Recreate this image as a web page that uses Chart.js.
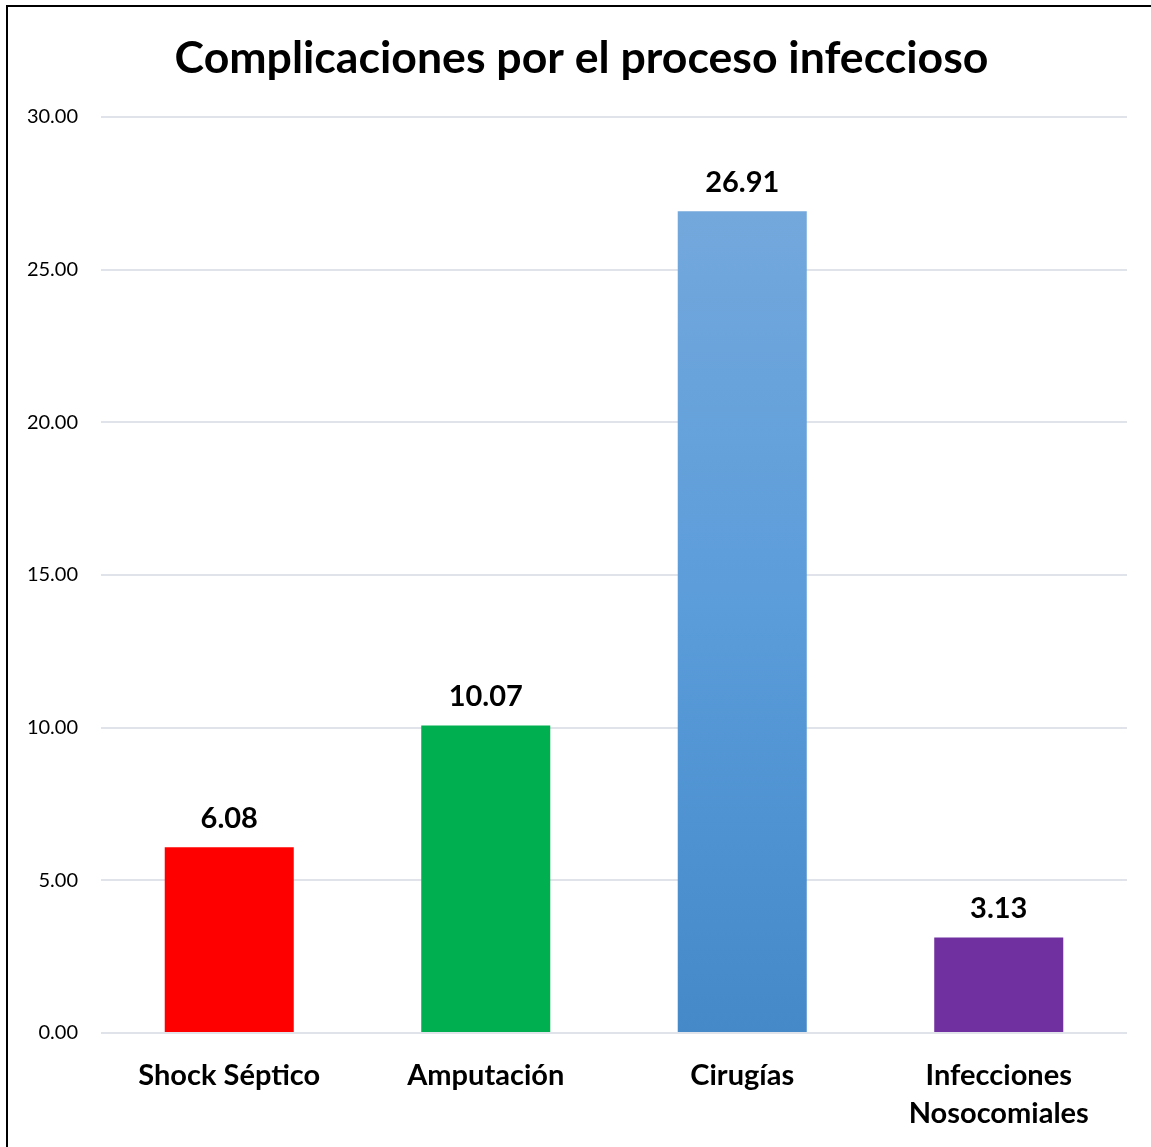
<!DOCTYPE html>
<html><head><meta charset="utf-8">
<script src="https://cdn.jsdelivr.net/npm/chart.js@4"></script>
<style>
html,body{margin:0;padding:0;background:#fff;overflow:hidden;}
#frame{position:absolute;left:6px;top:5px;width:1160px;height:1160px;border:2px solid #000;box-sizing:border-box;}
#wrap{position:absolute;left:0;top:0;width:1151px;height:1147px;}
</style></head>
<body>
<div id="frame"></div>
<div id="wrap"><canvas id="c"></canvas></div>
<script>
const titleText = 'Complicaciones por el proceso infeccioso';
const categories = ['Shock Séptico', 'Amputación', 'Cirugías', ['Infecciones', 'Nosocomiales']];
const values = [6.08, 10.07, 26.91, 3.13];
const barColors = ['#FF0000', '#00B050', 'gradient', '#7030A0'];
const yMin = 0, yMax = 30, yStep = 5;

const FONT = 'Lato, "Open Sans", sans-serif';

function blueGradient(ctx) {
  const chart = ctx.chart;
  const area = chart.chartArea;
  if (!area) return '#5B9BD5';
  const y = chart.scales.y;
  const g = chart.ctx.createLinearGradient(0, y.getPixelForValue(values[2]), 0, y.getPixelForValue(0));
  g.addColorStop(0, '#73A8DC');
  g.addColorStop(0.5, '#5A9CDA');
  g.addColorStop(1, '#4589C9');
  return g;
}

const dataLabels = {
  id: 'dataLabels',
  afterDatasetsDraw(chart) {
    const ctx = chart.ctx;
    const meta = chart.getDatasetMeta(0);
    ctx.save();
    ctx.font = 'bold 29px ' + FONT;
    ctx.fillStyle = '#000';
    ctx.textAlign = 'center';
    ctx.textBaseline = 'bottom';
    meta.data.forEach((bar, i) => {
      ctx.fillText(values[i].toFixed(2), bar.x, bar.y - 14);
    });
    ctx.restore();
  }
};

const chartTitle = {
  id: 'chartTitle',
  afterDraw(chart) {
    const ctx = chart.ctx;
    ctx.save();
    ctx.font = 'bold 44.6px ' + FONT;
    ctx.fillStyle = '#000';
    ctx.textAlign = 'center';
    ctx.textBaseline = 'middle';
    ctx.fillText(titleText, 581.5, 59);
    ctx.restore();
  }
};

new Chart(document.getElementById('c'), {
  type: 'bar',
  data: {
    labels: categories,
    datasets: [{
      data: values,
      backgroundColor: (ctx) => barColors[ctx.dataIndex] === 'gradient' ? blueGradient(ctx) : barColors[ctx.dataIndex],
      borderWidth: 0,
      categoryPercentage: 1.0,
      barPercentage: 0.503
    }]
  },
  options: {
    responsive: true,
    maintainAspectRatio: false,
    animation: false,
    layout: { padding: { left: 0, right: 24, top: 117, bottom: 0 } },
    plugins: {
      legend: { display: false },
      tooltip: { enabled: false },
      title: { display: false }
    },
    scales: {
      x: {
        grid: { display: false, drawTicks: false },
        border: { display: false },
        ticks: {
          color: '#000',
          font: { family: FONT, size: 29, weight: 'bold', lineHeight: 1.31 },
          padding: 24,
          maxRotation: 0,
          autoSkip: false
        },
        afterFit(s) { s.height = 114; }
      },
      y: {
        min: yMin, max: yMax,
        grid: { color: '#E0E4EA', lineWidth: 2, drawTicks: false },
        border: { display: false },
        ticks: {
          stepSize: yStep,
          color: '#000',
          font: { family: FONT, size: 20 },
          padding: 23,
          callback: (v) => v.toFixed(2)
        },
        afterFit(s) { s.width = 101; }
      }
    }
  },
  plugins: [dataLabels, chartTitle]
});
</script>
</body></html>
